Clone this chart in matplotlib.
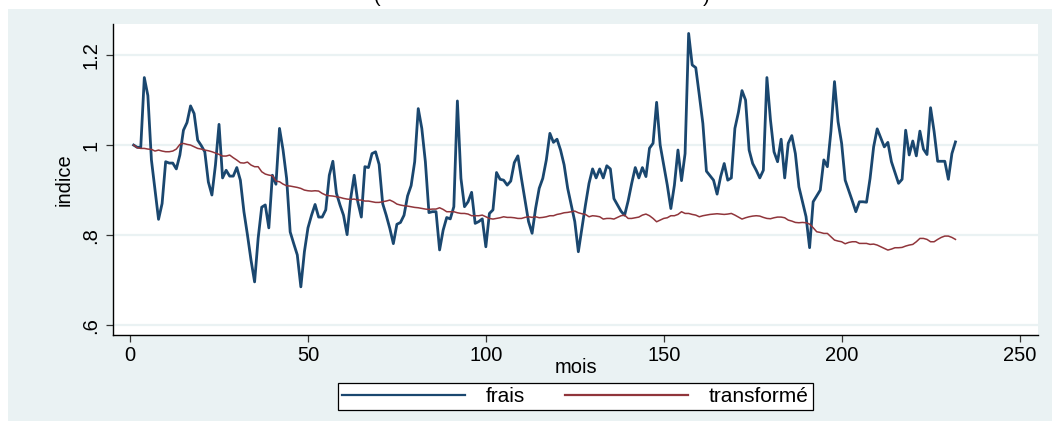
import matplotlib
matplotlib.use("Agg")
import matplotlib.pyplot as plt
from matplotlib.patches import Rectangle
import numpy as np

plt.rcParams['font.family'] = ['Liberation Sans', 'DejaVu Sans']

mois = list(range(1, 233))

frais = [
    1.000, 0.995, 0.995, 1.150, 1.110, 0.967, 0.900, 0.835, 0.870, 0.963,
    0.960, 0.960, 0.947, 0.978, 1.033, 1.050, 1.087, 1.070, 1.011, 0.999,
    0.985, 0.918, 0.889, 0.956, 1.046, 0.927, 0.944, 0.931, 0.931, 0.950,
    0.922, 0.852, 0.800, 0.744, 0.696, 0.793, 0.862, 0.867, 0.816, 0.933,
    0.913, 1.037, 0.989, 0.926, 0.807, 0.781, 0.756, 0.685, 0.763, 0.816,
    0.844, 0.868, 0.840, 0.840, 0.856, 0.933, 0.964, 0.893, 0.867, 0.844,
    0.801, 0.881, 0.933, 0.874, 0.840, 0.952, 0.950, 0.981, 0.985, 0.957,
    0.870, 0.844, 0.815, 0.781, 0.824, 0.828, 0.844, 0.887, 0.910, 0.963,
    1.081, 1.037, 0.963, 0.850, 0.852, 0.852, 0.767, 0.811, 0.839, 0.836,
    0.863, 1.098, 0.926, 0.863, 0.874, 0.895, 0.826, 0.830, 0.836, 0.774,
    0.848, 0.856, 0.939, 0.924, 0.922, 0.911, 0.920, 0.961, 0.976, 0.926,
    0.878, 0.830, 0.804, 0.860, 0.904, 0.926, 0.967, 1.026, 1.006, 1.013,
    0.989, 0.956, 0.904, 0.867, 0.830, 0.763, 0.815, 0.867, 0.915, 0.947,
    0.927, 0.947, 0.927, 0.954, 0.947, 0.881, 0.867, 0.853, 0.844, 0.876,
    0.915, 0.950, 0.927, 0.950, 0.930, 0.993, 1.004, 1.095, 1.000, 0.956,
    0.911, 0.859, 0.911, 0.989, 0.921, 0.981, 1.248, 1.178, 1.172, 1.111,
    1.048, 0.942, 0.932, 0.922, 0.891, 0.930, 0.959, 0.922, 0.927, 1.037,
    1.073, 1.121, 1.100, 0.989, 0.959, 0.944, 0.927, 0.944, 1.150, 1.056,
    0.985, 0.963, 1.013, 0.927, 1.004, 1.021, 0.981, 0.907, 0.874, 0.841,
    0.772, 0.874, 0.887, 0.900, 0.967, 0.952, 1.031, 1.141, 1.052, 1.004,
    0.922, 0.899, 0.876, 0.852, 0.874, 0.874, 0.873, 0.926, 0.996, 1.036,
    1.016, 0.996, 1.006, 0.963, 0.939, 0.915, 0.924, 1.033, 0.978, 1.009,
    0.976, 1.031, 0.991, 0.979, 1.083, 1.030, 0.964, 0.964, 0.964, 0.924,
    0.981, 1.007,
]

transforme_px = [
    360, 368, 370, 370, 372, 373, 378, 375, 378, 380,
    380, 378, 372, 358, 355, 358, 360, 365, 370, 372,
    375, 377, 380, 384, 388, 393, 393, 390, 398, 405,
    413, 414, 411, 420, 425, 425, 440, 447, 450, 452,
    468, 470, 477, 482, 483, 485, 487, 490, 495, 497,
    498, 497, 498, 505, 510, 512, 513, 515, 517, 520,
    522, 523, 522, 525, 525, 528, 528, 530, 532, 532,
    530, 528, 525, 530, 537, 540, 542, 543, 545, 547,
    548, 550, 552, 553, 552, 552, 548, 553, 560, 560,
    560, 563, 565, 565, 567, 572, 572, 572, 570, 575,
    580, 582, 580, 578, 575, 577, 577, 578, 580, 580,
    577, 575, 577, 575, 578, 577, 575, 572, 572, 568,
    566, 563, 562, 560, 558, 563, 566, 568, 575, 572,
    573, 575, 582, 580, 580, 582, 577, 572, 570, 580,
    580, 578, 576, 570, 567, 572, 580, 590, 585, 580,
    578, 572, 572, 568, 560, 565, 565, 568, 570, 575,
    572, 570, 568, 567, 566, 567, 568, 567, 565, 570,
    576, 582, 578, 575, 573, 572, 573, 577, 580, 581,
    578, 576, 576, 578, 585, 588, 592, 593, 592, 593,
    597, 608, 620, 622, 625, 625, 635, 645, 648, 650,
    656, 652, 650, 650, 655, 655, 655, 658, 657, 660,
    665, 670, 675, 672, 668, 668, 667, 663, 660, 658,
    650, 640, 640, 643, 650, 650, 643, 637, 633, 633,
    637, 643,
]
transforme = [round(1 + (360 - v) / 1350, 4) for v in transforme_px]

xticks = [0, 50, 100, 150, 200, 250]
yticks = [0.6, 0.8, 1.0, 1.2]
ytick_labels = [".6", ".8", "1", "1.2"]

BG = "#eaf2f3"
BLUE = "#1a476f"
RED = "#90353b"

W, H = 1052, 421
fig = plt.figure(figsize=(W / 100, H / 100), dpi=100, facecolor="white")
bgrect = Rectangle((8 / W, 0), 1 - 8 / W, (H - 9) / H,
                   transform=fig.transFigure, facecolor=BG,
                   edgecolor="none", zorder=-10)
fig.patches.append(bgrect)

ax = fig.add_axes([113 / W, 1 - 335 / H, (1038 - 113) / W, (335 - 24) / H])
ax.set_zorder(1)
ax.set_facecolor("white")
ax.plot(mois, frais, color=BLUE, lw=2.0, label="frais", zorder=3)
ax.plot(mois, transforme, color=RED, lw=1.1, label="transformé", zorder=3)

ax.set_xlim(-4.8, 255.2)
ax.set_ylim(0.578, 1.269)
ax.set_xticks(xticks)
ax.set_yticks(yticks)
ax.set_yticklabels(ytick_labels, rotation=90, va="center")
ax.tick_params(axis="both", labelsize=14.5, length=5, width=0.9,
               color="#333333", direction="out")
ax.tick_params(axis="x", pad=3)
ax.tick_params(axis="y", pad=4)
ax.grid(axis="y", color=BG, lw=1.6, zorder=1)
for s in ["top", "right"]:
    ax.spines[s].set_visible(False)
ax.spines["left"].set_color("black")
ax.spines["bottom"].set_color("black")
ax.spines["left"].set_linewidth(1.0)
ax.spines["bottom"].set_linewidth(1.0)

ax.set_xlabel("mois", fontsize=14.5, labelpad=-5)
ax.set_ylabel("indice", fontsize=14.5, labelpad=6)

leg = fig.legend(loc="center", bbox_to_anchor=(575.5 / W, 1 - 396.5 / H),
                 ncol=2, frameon=True, fancybox=False, fontsize=15,
                 handlelength=5.9, columnspacing=1.9, handletextpad=1.0,
                 borderpad=0.2, borderaxespad=0)
leg.set_zorder(2)
leg.get_frame().set_edgecolor("black")
leg.get_frame().set_facecolor("white")
leg.get_frame().set_alpha(1.0)
leg.get_frame().set_linewidth(0.9)
for l in leg.get_lines():
    l.set_linewidth(1.6)

fig.text(0.515, 1.0 + 2 / H, "(" + " " * 60 + ")", ha="center", va="center",
         fontsize=14)

fig.savefig("out.png", dpi=100, facecolor="white")
